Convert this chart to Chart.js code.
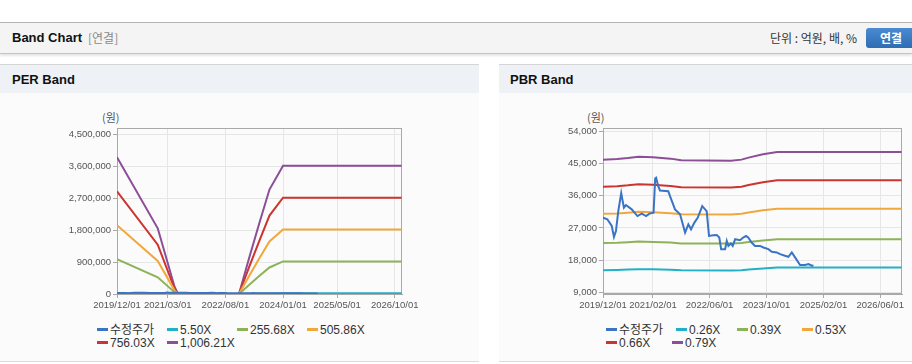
<!DOCTYPE html>
<html><head><meta charset="utf-8">
<script src="https://cdn.jsdelivr.net/npm/chart.js@4/dist/chart.umd.min.js"></script>
<style>
html,body{margin:0;padding:0;background:#fff;width:912px;height:364px;overflow:hidden;font-family:"Liberation Sans","Noto Sans CJK KR",sans-serif;}
.abs{position:absolute;}
#topbar{left:0;top:22px;width:912px;height:30px;background:#f4f4f4;border-top:1px solid #b4b4b4;border-bottom:1px solid #c4c4c4;box-shadow:0 2px 2px rgba(0,0,0,0.10);}
.ttl{font-weight:bold;font-size:13px;color:#111;line-height:16px;}
.panelhead{top:64px;height:28px;background:#eef2f7;border-top:1px solid #d6d6d6;}
.panelbody{top:93px;height:268px;background:#fbfbfb;border-bottom:1px solid #dcdcdc;}
.unit{font-size:11px;color:#555;line-height:12px;font-family:"Noto Sans CJK KR",sans-serif;}
.lg{font-size:12px;color:#333;line-height:14px;white-space:nowrap;}
.lg i{display:inline-block;width:11px;height:3px;vertical-align:middle;margin-right:2px;position:relative;top:-1px;}
#btn{left:866px;top:28px;width:50px;height:20px;border-radius:3px;background:linear-gradient(#4a8ad0,#2f6db3);color:#fff;font-weight:bold;font-size:12px;line-height:20px;text-indent:14px;font-family:"Noto Sans CJK KR",sans-serif;}
</style></head>
<body>
<div id="topbar" class="abs"></div>
<div class="abs ttl" style="left:12px;top:30px;">Band Chart</div>
<div class="abs" style="left:88px;top:31px;font-size:12px;color:#8a8a8a;line-height:14px;font-family:'Noto Sans CJK KR',sans-serif;">[연결]</div>
<div class="abs" style="left:770px;top:30px;font-size:12px;color:#333;line-height:16px;font-family:'Noto Sans CJK KR',sans-serif;">단위 : 억원, 배, %</div>
<div id="btn" class="abs">연결</div>

<div class="abs panelbody" style="left:0;width:479px;"></div>
<div class="abs panelbody" style="left:499px;width:413px;"></div>
<div class="abs panelhead" style="left:0;width:479px;"></div>
<div class="abs panelhead" style="left:499px;width:413px;"></div>
<div class="abs ttl" style="left:12px;top:72px;">PER Band</div>
<div class="abs ttl" style="left:510px;top:72px;">PBR Band</div>

<div class="abs unit" style="left:102px;top:111px;">(원)</div>
<div class="abs unit" style="left:587px;top:111px;">(원)</div>

<canvas id="per" class="abs" width="479" height="220" style="left:0;top:100px;"></canvas>
<canvas id="pbr" class="abs" width="413" height="220" style="left:499px;top:100px;"></canvas>
<div id="perLegend"></div>
<div id="pbrLegend"></div>

<script>
// ---- data ----
const priceDates = ['2019-12-01','2020-01-07','2020-02-14','2020-03-04','2020-03-21','2020-04-10','2020-05-05','2020-05-28','2020-06-15','2020-08-03','2020-09-21','2020-10-28','2020-12-04','2021-01-02','2021-02-06','2021-02-20','2021-02-28','2021-03-18','2021-04-02','2021-06-12','2021-06-27','2021-08-09','2021-09-21','2021-11-03','2021-12-01','2021-12-24','2022-01-22','2022-02-20','2022-03-30','2022-05-07','2022-05-27','2022-07-03','2022-08-01','2022-08-23','2022-09-08','2022-10-12','2022-10-26','2022-11-09','2022-11-30','2022-12-16','2023-01-06','2023-02-17','2023-03-16','2023-04-09','2023-04-28','2023-05-27','2023-06-25','2023-08-07','2023-09-05','2023-10-17','2023-11-16','2023-12-28','2024-01-26','2024-03-08','2024-04-06','2024-05-05','2024-06-02','2024-07-15','2024-08-27','2024-09-25','2024-10-24','2024-11-07'];
const priceValues = [29900,29420,27560,24490,26160,31730,36750,32680,33410,32210,30340,31010,30340,31010,31290,40840,41040,38700,37500,37310,35910,32210,30810,25720,28030,26640,28500,29900,33130,31730,24770,24960,25050,24320,21060,21060,23380,21980,22650,21980,23850,23570,24320,24770,24320,22930,21980,21980,21540,21060,20310,20140,19670,19200,18920,20140,18750,16610,16610,16880,16410,16500];

const perDates = ['2019-12-01','2020-12-01','2021-05-01','2021-06-01','2022-12-01','2023-03-01','2023-06-01','2023-09-01','2024-01-01','2026-12-01'];
const per550 = [21070,10120,1130,0,0,5460,10850,16090,19750,19750];
const per25568 = [979250,470450,52410,0,0,253640,504460,748120,917890,917890];
const per50586 = [1937440,930780,103700,0,0,501810,998060,1480150,1816040,1816040];
const per75603 = [2895600,1391100,154990,0,0,749980,1491650,2212140,2714150,2714150];
const per100621 = [3853780,1851430,206270,0,0,998160,1985250,2944170,3612290,3612290];
const perLabels = ['수정주가','5.50X','255.68X','505.86X','756.03X','1,006.21X'];
const perXTicks = ['2019/12/01','2021/03/01','2022/08/01','2024/01/01','2025/05/01','2026/10/01'];
const perYTicks = [0,900000,1800000,2700000,3600000,4500000];

const pbrDates = ['2019-12-01','2020-04-01','2020-07-01','2020-10-01','2021-02-01','2021-07-01','2021-10-01','2022-12-01','2023-03-01','2023-05-01','2023-09-01','2024-01-01','2026-12-01'];
const pbr026 = [15180,15250,15340,15460,15400,15280,15120,15090,15180,15370,15670,15890,15890];
const pbr039 = [22780,22870,23010,23190,23100,22920,22680,22640,22780,23050,23510,23830,23830];
const pbr053 = [30950,31080,31270,31510,31390,31140,30820,30770,30950,31330,31950,32390,32390];
const pbr066 = [38540,38710,38940,39240,39090,38780,38380,38310,38540,39010,39780,40330,40330];
const pbr079 = [46140,46330,46610,46970,46780,46420,45940,45860,46140,46700,47620,48280,48280];
const pbrLabels = ['수정주가','0.26X','0.39X','0.53X','0.66X','0.79X'];
const pbrXTicks = ['2019/12/01','2021/02/01','2022/06/01','2023/10/01','2025/02/01','2026/06/01'];
const pbrYTicks = [9000,18000,27000,36000,45000,54000];

const colors = ['#3a74c4','#22b0c6','#8db35a','#f0a83c','#cc3431','#8c4e96'];

// ---- helpers ----
function t(s){const p=s.split(/[-\/]/).map(Number);return Date.UTC(p[0],p[1]-1,p[2]);}
function pts(dates, vals){return dates.map((d,i)=>({x:t(d),y:vals[i]}));}
const fmt = v => v.toString().replace(/\B(?=(\d{3})+(?!\d))/g, ',');

const boxPlugin = {id:'box', beforeDatasetsDraw(chart){
  const {ctx, chartArea:a} = chart;
  ctx.save(); ctx.strokeStyle='#a9a9a9'; ctx.lineWidth=1;
  ctx.strokeRect(Math.round(a.left)+0.5, Math.round(a.top)+0.5, Math.round(a.right-a.left)-1, Math.round(a.bottom-a.top)-1);
  ctx.restore();
}};

function makeChart(id, seriesSets, labels, xTicks, yTicks, yMin, yMax, yWidth, padRight){
  const xt = xTicks.map(t);
  const datasets = seriesSets.map((d,i)=>({label:labels[i], data:d, borderColor:colors[i], backgroundColor:colors[i], borderWidth:2, pointRadius:0, tension:0, fill:false}));
  const tickFont = {family:'"Liberation Sans", sans-serif', size:9.5};
  return new Chart(document.getElementById(id), {
    type:'line',
    data:{datasets},
    options:{
      responsive:false, animation:false, parsing:false, normalized:true,
      layout:{padding:{left:0,right:padRight,top:28,bottom:0}},
      plugins:{legend:{display:false}, tooltip:{enabled:false}},
      scales:{
        x:{type:'linear', min:t(xTicks[0]), max:t('2026-12-05'),
           afterBuildTicks:s=>{s.ticks = xt.map(v=>({value:v}));},
           afterFit:s=>{s.height=26;},
           ticks:{autoSkip:false, maxRotation:0, padding:2, color:'#555', font:tickFont,
                  callback:(v,i)=>xTicks[i]},
           grid:{color:'#e6e6e6', tickLength:4, tickColor:'#a9a9a9'},
           border:{color:'#a9a9a9'}},
        y:{type:'linear', min:yMin, max:yMax,
           afterBuildTicks:s=>{s.ticks = yTicks.map(v=>({value:v}));},
           afterFit:s=>{s.width=yWidth;},
           ticks:{padding:2, color:'#555', font:tickFont, callback:v=>fmt(v)},
           grid:{color:'#e6e6e6', tickLength:4, tickColor:'#a9a9a9'},
           border:{color:'#a9a9a9'}}
      }
    },
    plugins:[boxPlugin]
  });
}

const price = pts(priceDates, priceValues);
makeChart('per', [price, pts(perDates,per550), pts(perDates,per25568), pts(perDates,per50586), pts(perDates,per75603), pts(perDates,per100621)],
  perLabels, perXTicks, perYTicks, 0, 4680000, 117, 77);
makeChart('pbr', [price, pts(pbrDates,pbr026), pts(pbrDates,pbr039), pts(pbrDates,pbr053), pts(pbrDates,pbr066), pts(pbrDates,pbr079)],
  pbrLabels, pbrXTicks, pbrYTicks, 8500, 55000, 104, 10);

// ---- legends ----
function legend(elId, labels, positions){
  const el = document.getElementById(elId);
  labels.forEach((lab,i)=>{
    const p = positions[i];
    const d = document.createElement('div');
    d.className='abs lg';
    d.style.left = p[0]+'px'; d.style.top = (p[1]-7)+'px';
    const sw = document.createElement('i'); sw.style.background = colors[i];
    d.appendChild(sw); d.appendChild(document.createTextNode(lab));
    el.appendChild(d);
  });
}
legend('perLegend', perLabels, [[97,330],[167,330],[237,330],[307,330],[97,343],[167,343]]);
legend('pbrLegend', pbrLabels, [[606,330],[676,330],[737,330],[802,330],[606,343],[672,343]]);
</script>
</body></html>
